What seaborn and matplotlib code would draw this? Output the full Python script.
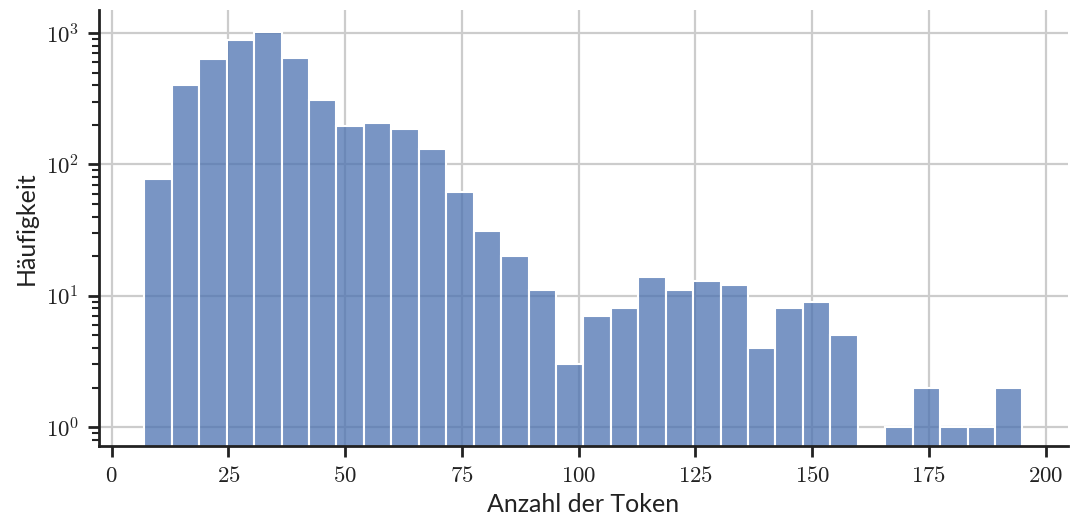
import numpy as np
import pandas as pd
import seaborn as sns
import matplotlib.pyplot as plt
from matplotlib.ticker import FuncFormatter, LogLocator

# Häufigkeit pro Bin (32 Bins von 7 bis 195 Token)
bin_min = 7
bin_max = 195
n_bins = 32
counts = [78, 400, 630, 890, 1010, 650, 310, 195, 205, 185, 130, 62,
          31, 20, 11, 3, 7, 8, 14, 11, 13, 12, 4, 8, 9, 5, 0, 1, 2, 1, 1, 2]
x_ticks = [0, 25, 50, 75, 100, 125, 150, 175, 200]

edges = np.linspace(bin_min, bin_max, n_bins + 1)
centers = (edges[:-1] + edges[1:]) / 2
df = pd.DataFrame({"token": centers, "anzahl": counts})

sns.set_style("ticks", {"axes.grid": True, "grid.color": "#cccccc"})
plt.rcParams["mathtext.fontset"] = "cm"
plt.rcParams["font.family"] = ["Lato", "DejaVu Sans"]

fig, ax = plt.subplots(figsize=(10.71, 5.22), dpi=100)
fig.subplots_adjust(left=0.092, right=0.997, bottom=0.146, top=0.981)

sns.histplot(data=df, x="token", weights="anzahl", bins=list(edges), ax=ax,
             color="#4C72B0", alpha=0.75, edgecolor="white", linewidth=1.5)
ax.set_yscale("log")
ax.set_ylim(0.72, 1500)
ax.set_xticks(x_ticks)
ax.set_xlim(-2.8, 204.7)
ax.yaxis.set_major_locator(LogLocator(base=10))
ax.yaxis.set_minor_locator(LogLocator(base=10, subs=np.arange(2, 10)))
ax.xaxis.set_major_formatter(FuncFormatter(lambda v, p: r"$%d$" % v))
ax.yaxis.set_major_formatter(FuncFormatter(lambda v, p: r"$10^{%d}$" % round(np.log10(v))))
ax.yaxis.set_minor_formatter(FuncFormatter(lambda v, p: ""))

ax.grid(True, which="major", color="#cccccc", linewidth=1.6)
ax.grid(False, which="minor")
ax.set_axisbelow(True)

for s in ["left", "bottom"]:
    ax.spines[s].set_linewidth(2)
    ax.spines[s].set_color("#222222")
sns.despine(ax=ax)
ax.tick_params(axis="both", which="major", length=8, width=2, labelsize=16.5,
               colors="#222222", pad=6)
ax.tick_params(axis="y", which="minor", length=5, width=1.5, colors="#222222")

ax.set_xlabel("Anzahl der Token", fontsize=18, color="#222222", labelpad=5)
ax.set_ylabel("Häufigkeit", fontsize=18, color="#222222", labelpad=6)

plt.savefig("out.png", dpi=100)
